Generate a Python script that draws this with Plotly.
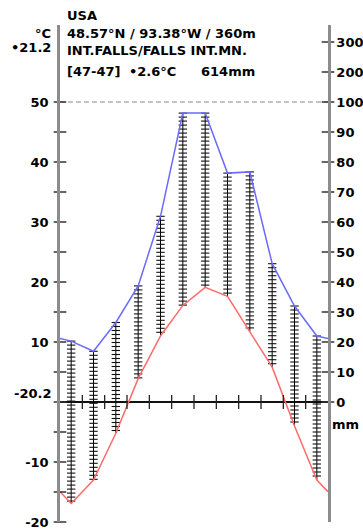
import numpy as np
import plotly.graph_objects as go

# ---- data ----
months = ["Jan", "Feb", "Mar", "Apr", "May", "Jun", "Jul", "Aug", "Sep", "Oct", "Nov", "Dec"]
temp_c = [-16.9, -13.0, -5.2, 3.9, 11.0, 16.1, 19.1, 17.6, 11.8, 5.8, -4.0, -13.0]
precip_mm = [20.3, 16.9, 26.5, 38.7, 61.9, 96.3, 96.3, 76.3, 76.7, 46.1, 32.0, 22.0]

left_tick_vals = [-20, -10, 10, 20, 30, 40, 50]
left_tick_text = ["-20", "-10", "10", "20", "30", "40", "50"]
left_minor_vals = [-15, -5, 5, 15, 25, 35, 45]
right_tick_mm = [0, 10, 20, 30, 40, 50, 60, 70, 80, 90, 100, 200, 300]
right_tick_text = ["0", "10", "20", "30", "40", "50", "60", "70", "80", "90", "100", "200", "300"]

title_country = "USA"
title_coords = "48.57°N / 93.38°W / 360m"
title_station = "INT.FALLS/FALLS INT.MN."
title_years = "[47-47]"
title_mean_t = "•2.6°C"
title_sum_p = "614mm"
label_unit_t = "°C"
label_max_t = "•21.2"
label_min_t = "-20.2"
label_unit_p = "mm"

# ---- layout geometry ----
W, H = 363, 531
L, R, T, B = 60, 35, 25, 9
PW, PH = W - L - R, H - T - B
Y0 = -20.0
YR = [Y0, Y0 + PH / 6.0]


def mm_to_scale(p):
    p = np.asarray(p, dtype=float)
    return np.where(p <= 100, p / 2.0, 50 + (p - 100) / 20.0)


def px(xp):
    return (xp - L) / PW


def py(yp):
    return (H - B - yp) / PH


x_mid = np.arange(12) + 0.5
t_edge = (temp_c[0] + temp_c[-1]) / 2
p_edge = (precip_mm[0] + precip_mm[-1]) / 2
x_line = np.concatenate([[0], x_mid, [12]])
t_line = np.concatenate([[t_edge], temp_c, [t_edge]])
p_line = mm_to_scale(np.concatenate([[p_edge], precip_mm, [p_edge]]))
p_scaled = mm_to_scale(precip_mm)

fig = go.Figure()

# hatching (humid period)
hx, hy, dx, dy = [], [], [], []
for i in range(12):
    top, bot = float(p_scaled[i]), float(temp_c[i])
    if top > bot:
        hx += [x_mid[i], x_mid[i], None]
        hy += [top, bot, None]
        ys = np.arange(top, bot, -4 / 6.0)
        dx += [x_mid[i]] * len(ys)
        dy += list(ys)
fig.add_trace(go.Scatter(x=hx, y=hy, mode="lines", line=dict(color="black", width=1),
                         hoverinfo="skip", showlegend=False))
fig.add_trace(go.Scatter(x=dx, y=dy, mode="markers",
                         marker=dict(symbol="line-ew", size=6, line=dict(color="#111111", width=1.1)),
                         hoverinfo="skip", showlegend=False))

# 100 mm dashed line
fig.add_trace(go.Scatter(x=[0, 12], y=[50, 50], mode="lines",
                         line=dict(color="#888888", width=1, dash="5px,3px"),
                         hoverinfo="skip", showlegend=False))

# curves
fig.add_trace(go.Scatter(x=x_line, y=p_line, mode="lines",
                         line=dict(color="#6a6aff", width=1.5), showlegend=False, name="Precip"))
fig.add_trace(go.Scatter(x=x_line, y=t_line, mode="lines",
                         line=dict(color="#ff6a6a", width=1.5), showlegend=False, name="Temp"))

# axis tick marks crossing the axes
lt = left_tick_vals + [0] + left_minor_vals
fig.add_trace(go.Scatter(x=[0] * len(lt), y=lt, mode="markers", cliponaxis=False,
                         marker=dict(symbol="line-ew", size=9, line=dict(color="#333333", width=1.5)),
                         hoverinfo="skip", showlegend=False))
rt = list(mm_to_scale(right_tick_mm))
fig.add_trace(go.Scatter(x=[12] * len(rt), y=rt, mode="markers", cliponaxis=False,
                         marker=dict(symbol="line-ew", size=9, line=dict(color="#333333", width=1.5)),
                         hoverinfo="skip", showlegend=False))
bx = list(range(1, 12))
fig.add_trace(go.Scatter(x=bx, y=[0] * len(bx), mode="markers", cliponaxis=False,
                         marker=dict(symbol="line-ns", size=10, line=dict(color="#222222", width=1.3)),
                         hoverinfo="skip", showlegend=False))

font = dict(family="DejaVu Sans", size=13, color="black", weight="bold")

fig.update_layout(
    width=W, height=H,
    margin=dict(l=L, r=R, t=T, b=B, autoexpand=False),
    paper_bgcolor="white", plot_bgcolor="white",
    showlegend=False,
    font=font,
    xaxis=dict(range=[0, 12], visible=False, fixedrange=True),
    yaxis=dict(range=YR, showgrid=False, zeroline=True, zerolinecolor="#111111", zerolinewidth=1.5,
               showline=True, linecolor="#8c8c8c", linewidth=2.5, ticks="",
               tickvals=left_tick_vals, ticktext=left_tick_text, ticklabelstandoff=6,
               tickfont=font, automargin=False),
    yaxis2=dict(range=YR, overlaying="y", side="right", showgrid=False, zeroline=False,
                showline=True, linecolor="#8c8c8c", linewidth=2.5, ticks="",
                tickvals=rt, ticktext=right_tick_text, ticklabelstandoff=3,
                tickfont=font, automargin=False),
)
# dummy trace to activate yaxis2
fig.add_trace(go.Scatter(x=[0], y=[0], yaxis="y2", mode="markers", marker=dict(opacity=0),
                         hoverinfo="skip", showlegend=False))


def ann(text, xp, yp, xanchor="left"):
    fig.add_annotation(text=text, xref="paper", yref="paper", x=px(xp), y=py(yp),
                       xanchor=xanchor, yanchor="middle", showarrow=False, font=font)


ann(title_country, 65, 15)
ann(title_coords, 65, 33)
ann(title_station, 65, 50)
ann(title_years, 65, 72)
ann(title_mean_t, 127, 72)
ann(title_sum_p, 199, 72)
ann(label_unit_t, 53, 33, "right")
ann(label_max_t, 53, 48, "right")
ann(label_min_t, 53, 393, "right")
ann(label_unit_p, 330, 424)

fig.write_html("out.html", config={"displayModeBar": False},
               post_script="document.body.style.margin='0';document.body.style.padding='0';")
